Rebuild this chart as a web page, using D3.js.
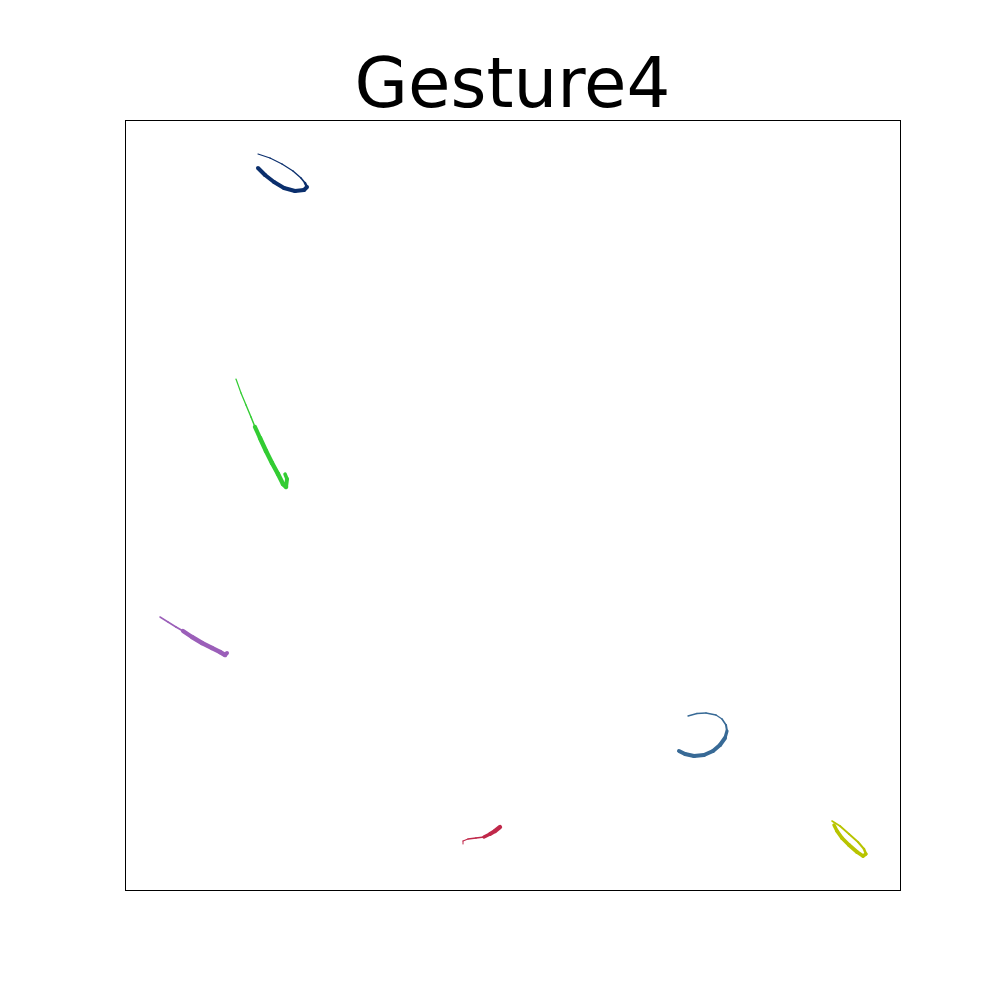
<!DOCTYPE html>
<html><head><meta charset="utf-8">
<script src="https://cdn.jsdelivr.net/npm/d3@7"></script>
<style>body{margin:0;background:#fff}</style>
</head><body>
<svg id="c" width="1000" height="1000"></svg>
<script>
const title = "Gesture4";
const strokeNames = ["s1","s2","s3","s4","s5","s6"];
const strokeColors = ["#0b2f6d","#33cc33","#9b5fb9","#386a96","#c0284a","#b8c400"];
const s1x = [133,145,157,168,176,180,182,179,170,159,149,140,133];
const s1y = [736,732,726,719,712,707,703,700,699,702,708,715,722];
const s1w = [1.2,1.2,1.3,1.4,1.6,2.6,4,4,4,4,4,4];
const s2x = [111,116,121,126,130,135,141,147,153,158,161,162,160];
const s2y = [511,497,485,473,463,452,439,427,416,406,403,411,416];
const s2w = [1.2,1.3,1.4,1.5,4.2,4.5,4.5,4.5,4.5,4.5,4,3.5];
const s3x = [35,43,51,58,67,77,87,95,100,102];
const s3y = [273,268,263,259,253,247,242,238,235,237];
const s3w = [1.5,1.6,1.9,4.2,4.5,4.5,4.5,4.5,4];
const s4x = [563,572,581,591,597,601,602,600,595,588,579,569,560,554];
const s4y = [174,176.5,177,175,171,165,159,152,145,139,135,134,136,139];
const s4w = [1.3,1.3,1.3,1.4,1.6,2,3.2,4,4,4,4,4,4];
const s5x = [338,338,343,351,359,365,370,375];
const s5y = [46,49,51,52,53,56,59,63];
const s5w = [1,1.1,1.4,1.7,3.5,4,4.3];
const s6x = [707,715,724,733,739,741,738,732,724,717,712,709];
const s6y = [69,64,56,48,41,36,34,38,45,52,59,65];
const s6w = [1.6,1.8,1.9,2,2.5,3.5,3.8,3.8,3.8,3.8,3.5];

const strokesX = [s1x,s2x,s3x,s4x,s5x,s6x];
const strokesY = [s1y,s2y,s3y,s4y,s5y,s6y];
const strokesW = [s1w,s2w,s3w,s4w,s5w,s6w];

const svg = d3.select("#c");
const L = 125, R = 900, T = 120, B = 890;
const x = d3.scaleLinear().domain([0,775]).range([L,R]);
const y = d3.scaleLinear().domain([0,770]).range([B,T]);

svg.append("text").attr("x",512.5).attr("y",107).attr("text-anchor","middle")
  .attr("font-family","DejaVu Sans").attr("font-size",69).attr("fill","#000").text(title);

const g = svg.append("g");
strokeNames.forEach((n,i)=>{
  const xs = strokesX[i], ys = strokesY[i], ws = strokesW[i];
  const segs = d3.range(xs.length-1).map(k=>({x1:xs[k],y1:ys[k],x2:xs[k+1],y2:ys[k+1],w:ws[k]}));
  g.append("g").attr("class",n).selectAll("line").data(segs).join("line")
    .attr("x1",d=>x(d.x1)).attr("y1",d=>y(d.y1)).attr("x2",d=>x(d.x2)).attr("y2",d=>y(d.y2))
    .attr("stroke",strokeColors[i]).attr("stroke-width",d=>d.w).attr("stroke-linecap","round");
});

svg.append("rect").attr("x",L+0.5).attr("y",T+0.5).attr("width",R-L).attr("height",B-T)
  .attr("fill","none").attr("stroke","#000").attr("stroke-width",1);
</script>
</body></html>
